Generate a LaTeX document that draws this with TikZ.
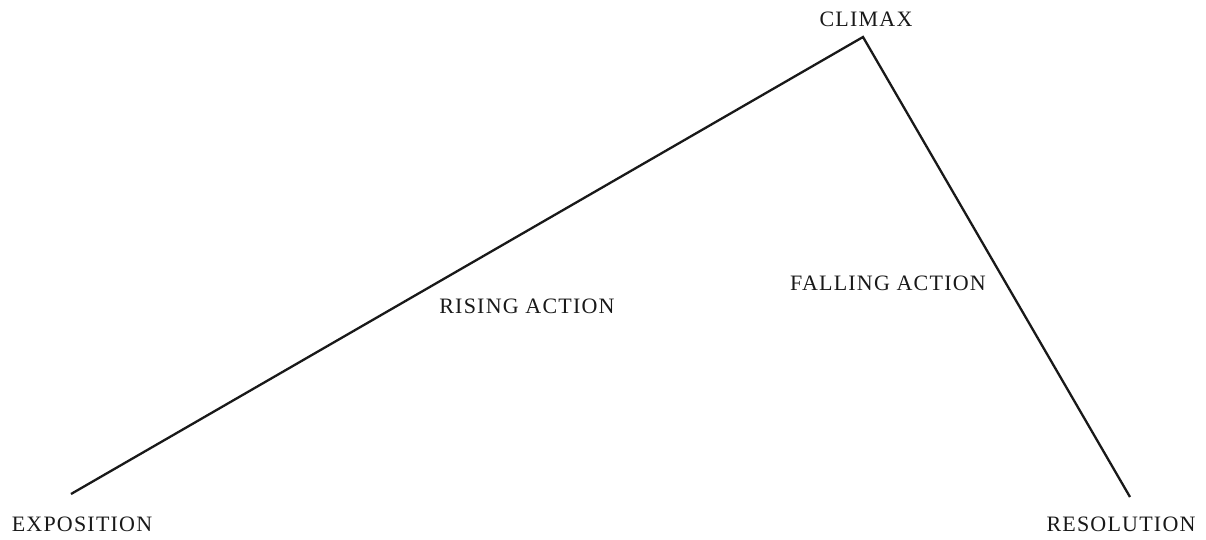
\documentclass[tikz,border=0pt]{standalone}
\usepackage{fontspec}
\setmainfont[LetterSpace=5.5]{Liberation Serif}
\begin{document}
\begin{tikzpicture}[x=1pt,y=-1pt,
  lbl/.style={inner sep=0pt,font=\fontsize{22}{25}\selectfont,text=black!90},
  arc/.style={line width=2.3pt,black!90,line cap=butt}]
\useasboundingbox (0,0) rectangle (1206,539);
\coordinate (exp) at (71,494);
\coordinate (cli) at (863,37);
\coordinate (res) at (1130,497);
\draw[arc] (exp) -- (cli) -- (res);
\node[lbl] (texp) at (82,524) {EXPOSITION};
\node[lbl] (tcli) at (866,19) {CLIMAX};
\node[lbl] (tres) at (1121,524) {RESOLUTION};
\node[lbl] (tris) at (527,306) {RISING ACTION};
\node[lbl] (tfal) at (888,283) {FALLING ACTION};
\end{tikzpicture}
\end{document}
